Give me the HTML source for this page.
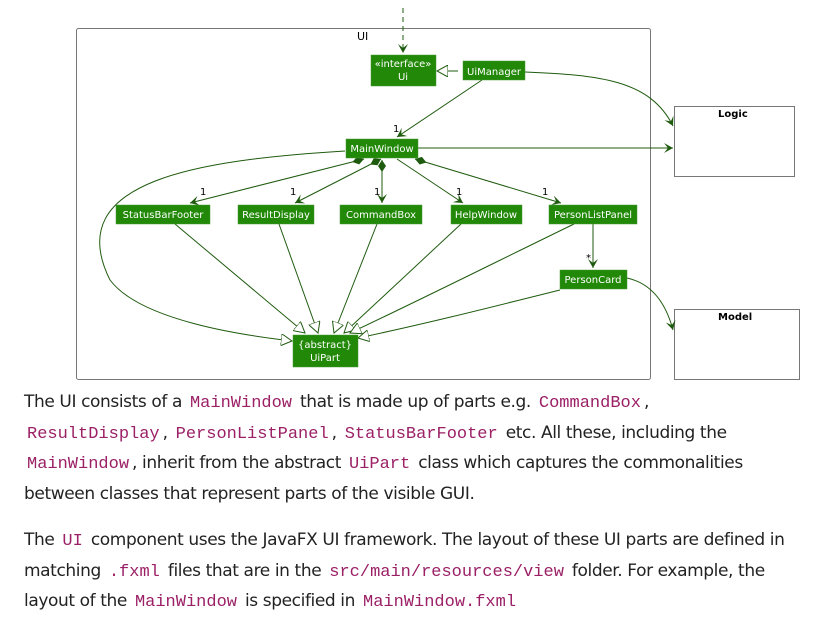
<!DOCTYPE html>
<html><head><meta charset="utf-8"><style>
body{margin:0;background:#fff;width:824px;height:625px;overflow:hidden;position:relative;font-family:"Liberation Sans","DejaVu Sans",sans-serif}
svg{position:absolute;left:0;top:0}
.t{position:absolute;left:24px;font-size:17px;color:#222;line-height:29.5px;white-space:nowrap;font-family:"DejaVu Sans","Liberation Sans",sans-serif;letter-spacing:-0.4px}
code{font-family:"Liberation Mono",monospace;color:#9b2066;font-size:17px;padding:0 3px;letter-spacing:0}
</style></head><body>
<svg width="824" height="625" font-family="DejaVu Sans, sans-serif">
<defs>
<marker id="a" markerWidth="10" markerHeight="10" refX="9" refY="5" orient="auto" markerUnits="userSpaceOnUse"><path d="M0,0 L9,5 L0,10 L4,5z" fill="#1f5b0f"/></marker>
<marker id="d" markerWidth="12" markerHeight="8" refX="0" refY="4" orient="auto" markerUnits="userSpaceOnUse"><path d="M0,4 L6,0 L12,4 L6,8z" fill="#1f5b0f"/></marker>
<marker id="g" markerWidth="12" markerHeight="12" refX="11" refY="6" orient="auto" markerUnits="userSpaceOnUse"><path d="M0,0 L11,6 L0,12z" fill="#fff" stroke="#1f5b0f"/></marker>
</defs>
<rect x="76.5" y="28.5" width="574" height="351" fill="none" stroke="#777" rx="2"/>
<text x="357" y="40" font-size="11">UI</text>
<rect x="674.5" y="106.5" width="120" height="70" fill="#fff" stroke="#777"/>
<text x="718" y="117" font-size="10" font-weight="bold">Logic</text>
<rect x="674.5" y="309.5" width="125" height="70" fill="#fff" stroke="#777"/>
<text x="718" y="320" font-size="10" font-weight="bold">Model</text>
<g fill="none" stroke="#1f5b0f" stroke-width="1">
<path d="M403,8 L403,53" stroke-dasharray="5,4" marker-end="url(#a)"/>
<path d="M458,71 L437,71" marker-end="url(#g)"/>
<path d="M482,80 L397,137" marker-end="url(#a)"/>
<path d="M525,72 C600,75 650,80 673,126" marker-end="url(#a)"/>
<path d="M418,148 L673,148" marker-end="url(#a)"/>
<path d="M364,159 L190,203" marker-start="url(#d)" marker-end="url(#a)"/>
<path d="M381,159 L295,203" marker-start="url(#d)" marker-end="url(#a)"/>
<path d="M382,160 L382,203" marker-start="url(#d)" marker-end="url(#a)"/>
<path d="M397,159 L463,203" marker-end="url(#a)"/>
<path d="M415,159 L561,203" marker-start="url(#d)" marker-end="url(#a)"/>
<path d="M593,224 L593,268" marker-end="url(#a)"/>
<path d="M627,278 C650,283 665,300 673,330" marker-end="url(#a)"/>
<path d="M345,151 C200,160 60,180 110,280 C140,320 240,335 292,341" marker-end="url(#g)"/>
<path d="M175,224 L305,333" marker-end="url(#g)"/>
<path d="M279,224 L318,333" marker-end="url(#g)"/>
<path d="M377,224 L334,333" marker-end="url(#g)"/>
<path d="M461,224 L344,333" marker-end="url(#g)"/>
<path d="M574,224 C500,260 420,300 350,333" marker-end="url(#g)"/>
<path d="M560,290 C480,310 420,325 358,338" marker-end="url(#g)"/>
</g>
<g font-size="10" fill="#000">
<text x="393" y="132">1</text><text x="200" y="195">1</text><text x="290" y="195">1</text>
<text x="374" y="195">1</text><text x="456" y="195">1</text><text x="542" y="195">1</text>
<text x="586" y="261">*</text>
</g>
<g fill="#218808" stroke="#4a9a3a" stroke-width="0.5">
<rect x="371" y="55" width="65" height="31"/><rect x="463" y="61" width="62" height="19"/>
<rect x="346" y="139" width="72" height="19"/>
<rect x="116" y="205" width="94" height="19"/><rect x="238" y="205" width="76" height="19"/>
<rect x="340" y="205" width="82" height="19"/><rect x="451" y="205" width="71" height="19"/>
<rect x="549" y="205" width="88" height="19"/><rect x="560" y="270" width="67" height="19"/>
<rect x="293" y="335" width="65" height="32"/>
</g>
<g fill="#fff" font-size="10" text-anchor="middle">
<text x="403" y="67">«interface»</text><text x="403" y="80">Ui</text>
<text x="494" y="75">UiManager</text><text x="382" y="152">MainWindow</text>
<text x="163" y="218">StatusBarFooter</text><text x="276" y="218">ResultDisplay</text>
<text x="381" y="218">CommandBox</text><text x="486" y="218">HelpWindow</text>
<text x="593" y="218">PersonListPanel</text><text x="593" y="283">PersonCard</text>
<text x="325" y="348">{abstract}</text><text x="325" y="361">UiPart</text>
</g>
</svg>
<div class="t" style="top:388px">The UI consists of a <code>MainWindow</code> that is made up of parts e.g. <code>CommandBox</code>,<br><code>ResultDisplay</code>, <code>PersonListPanel</code>, <code>StatusBarFooter</code> etc. All these, including the<br><code>MainWindow</code>, inherit from the abstract <code>UiPart</code> class which captures the commonalities<br>between classes that represent parts of the visible GUI.</div>
<div class="t" style="top:526px">The <code>UI</code> component uses the JavaFX UI framework. The layout of these UI parts are defined in<br>matching <code>.fxml</code> files that are in the <code>src/main/resources/view</code> folder. For example, the<br>layout of the <code>MainWindow</code> is specified in <code>MainWindow.fxml</code></div>
</body></html>
